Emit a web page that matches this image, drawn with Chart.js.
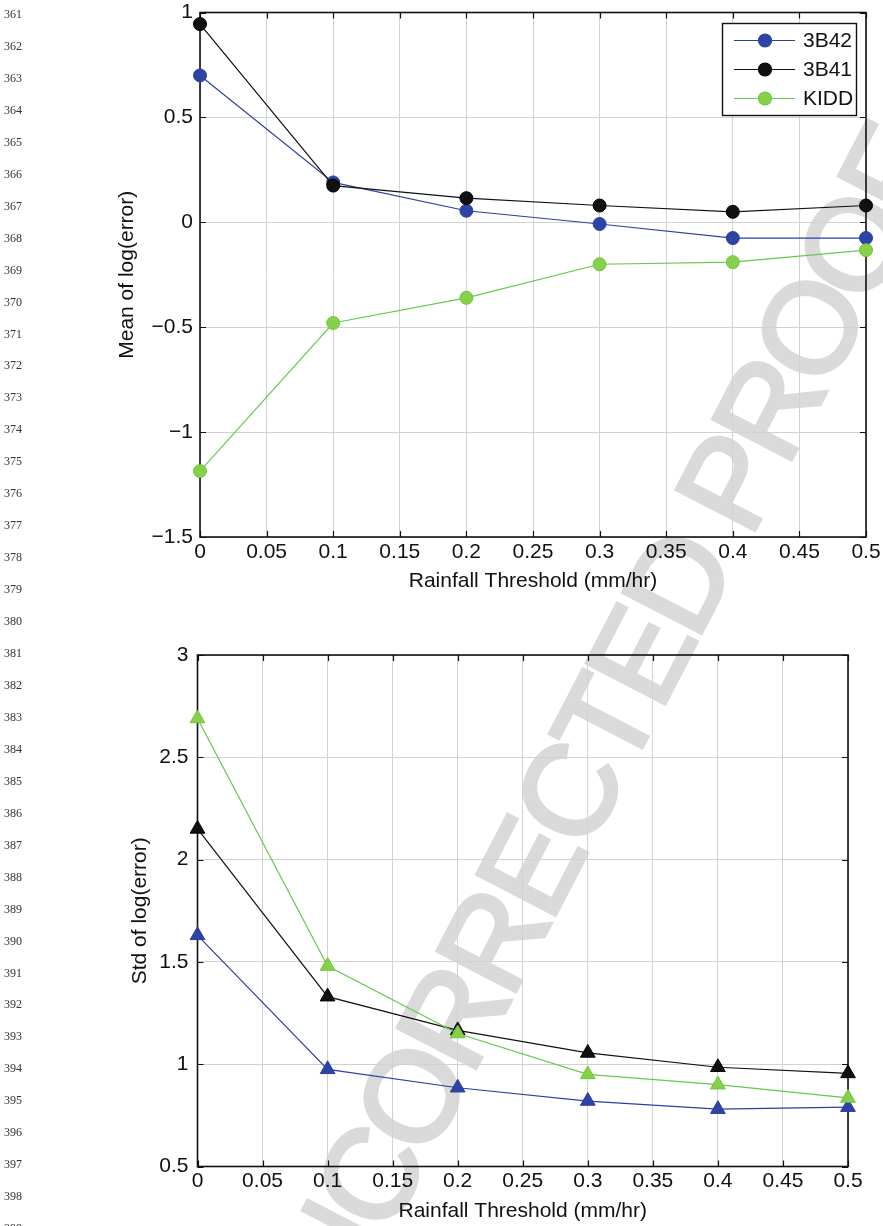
<!DOCTYPE html>
<html>
<head>
<meta charset="utf-8">
<script src="https://cdn.jsdelivr.net/npm/chart.js@4.4.1/dist/chart.umd.min.js"></script>
<style>
  body { margin: 0; background: #fff; width: 883px; height: 1226px; overflow: hidden; position: relative; }
  #wm {
    position: absolute; left: 588px; top: 756px; z-index: 0;
    transform: translate(-50%, -50%) rotate(-62.6deg);
    font: 128px "Liberation Sans", Arial, sans-serif; line-height: 1; letter-spacing: -6px;
    color: #dadada; -webkit-text-stroke: 4px #dadada; white-space: nowrap;
  }
  .ln { position: absolute; left: 4px; font: 12px "Liberation Serif", "Times New Roman", serif; color: #333; z-index: 2; }
  canvas { position: absolute; left: 0; z-index: 1; }
  #meanChart { top: 0; }
  #stdChart { top: 620px; }
</style>
</head>
<body>
<div id="wm">UNCORRECTED PROOF</div>
<canvas id="meanChart" width="883" height="610"></canvas>
<canvas id="stdChart" width="883" height="606"></canvas>
<script>
// rainfall thresholds (mm/hr)
const thresholds = [0, 0.1, 0.2, 0.3, 0.4, 0.5];
const seriesNames = ['3B42', '3B41', 'KIDD'];

// mean of log(error)
const mean3B42 = [0.70, 0.19, 0.055, -0.008, -0.075, -0.075];
const mean3B41 = [0.945, 0.175, 0.115, 0.08, 0.05, 0.08];
const meanKIDD = [-1.186, -0.48, -0.36, -0.20, -0.19, -0.133];

// std of log(error)
const std3B42 = [1.63, 0.975, 0.885, 0.82, 0.78, 0.79];
const std3B41 = [2.15, 1.33, 1.165, 1.055, 0.985, 0.955];
const stdKIDD = [2.69, 1.48, 1.15, 0.95, 0.90, 0.835];

const xTicks = [0, 0.05, 0.1, 0.15, 0.2, 0.25, 0.3, 0.35, 0.4, 0.45, 0.5];
const meanTicks = [-1.5, -1, -0.5, 0, 0.5, 1];
const stdTicks = [0.5, 1, 1.5, 2, 2.5, 3];

const colors = {
  '3B42': { line: '#2c40a2', fill: '#2d44a6', edge: '#2b3f9e' },
  '3B41': { line: '#111111', fill: '#111111', edge: '#000000' },
  'KIDD': { line: '#64c94f', fill: '#88d04a', edge: '#6bc63f' },
};

Chart.defaults.font.family = '"Liberation Sans", Arial, Helvetica, sans-serif';
Chart.defaults.font.size = 21;
Chart.defaults.color = '#111';

// line numbers of the proof page
for (let i = 0; i <= 38; i++) {
  const d = document.createElement('div');
  d.className = 'ln';
  d.textContent = String(361 + i);
  d.style.top = (7 + i * 31.95) + 'px';
  document.body.appendChild(d);
}

const fmt = (v) => (v < 0 ? '\u2212' : '') + String(Math.abs(+v.toFixed(2)));

// MATLAB-like axes box with inward ticks
const boxPlugin = {
  id: 'matlabBox',
  beforeDatasetsDraw(chart) {
    const { ctx, chartArea: a, scales } = chart;
    ctx.save();
    ctx.strokeStyle = '#111';
    ctx.lineWidth = 1.2;
    ctx.beginPath();
    scales.x.ticks.forEach((t) => {
      const px = Math.round(scales.x.getPixelForValue(t.value)) + 0.5;
      ctx.moveTo(px, a.bottom); ctx.lineTo(px, a.bottom - 6);
      ctx.moveTo(px, a.top); ctx.lineTo(px, a.top + 6);
    });
    scales.y.ticks.forEach((t) => {
      const py = Math.round(scales.y.getPixelForValue(t.value)) + 0.5;
      ctx.moveTo(a.left, py); ctx.lineTo(a.left + 6, py);
      ctx.moveTo(a.right, py); ctx.lineTo(a.right - 6, py);
    });
    ctx.stroke();
    ctx.lineWidth = 1.6;
    ctx.strokeRect(a.left, a.top, a.right - a.left, a.bottom - a.top);
    ctx.restore();
  },
};

const legendPlugin = {
  id: 'boxLegend',
  afterDatasetsDraw(chart) {
    const { ctx } = chart;
    ctx.save();
    ctx.fillStyle = '#fff';
    ctx.fillRect(722.5, 23.5, 134, 92);
    ctx.strokeStyle = '#111';
    ctx.lineWidth = 1.4;
    ctx.strokeRect(722.5, 23.5, 134, 92);
    seriesNames.forEach((name, i) => {
      const y = 40.5 + i * 29;
      const c = colors[name];
      ctx.strokeStyle = c.line;
      ctx.lineWidth = 1.2;
      ctx.beginPath(); ctx.moveTo(734, y); ctx.lineTo(795, y); ctx.stroke();
      ctx.fillStyle = c.fill;
      ctx.strokeStyle = c.edge;
      ctx.beginPath(); ctx.arc(765, y, 6.5, 0, Math.PI * 2); ctx.fill(); ctx.stroke();
      ctx.fillStyle = '#111';
      ctx.font = '21px "Liberation Sans", Arial, sans-serif';
      ctx.textBaseline = 'middle';
      ctx.fillText(name, 803, y + 1);
    });
    ctx.restore();
  },
};

function makeDataset(name, values, pointStyle, radius, order) {
  const c = colors[name];
  return {
    label: name,
    data: thresholds.map((x, i) => ({ x, y: values[i] })),
    borderColor: c.line,
    borderWidth: 1.2,
    pointStyle,
    pointRadius: radius,
    pointHoverRadius: radius,
    pointBackgroundColor: c.fill,
    pointBorderColor: c.edge,
    pointBorderWidth: 1,
    tension: 0,
    clip: false,
    order,
  };
}

function makeChart(id, datasets, cfg) {
  return new Chart(document.getElementById(id), {
    type: 'line',
    data: { datasets },
    plugins: cfg.legend ? [boxPlugin, legendPlugin] : [boxPlugin],
    options: {
      responsive: false,
      animation: false,
      devicePixelRatio: 1,
      layout: { padding: { top: cfg.padTop, right: cfg.padRight, left: 0, bottom: 0 } },
      plugins: { legend: { display: false }, tooltip: { enabled: false } },
      scales: {
        x: {
          type: 'linear', min: 0, max: 0.5,
          afterBuildTicks: (s) => { s.ticks = xTicks.map((v) => ({ value: v })); },
          afterFit: (s) => { s.height = cfg.xHeight; s.paddingLeft = 0; s.paddingRight = 0; },
          ticks: { autoSkip: false, maxRotation: 0, padding: cfg.xTickPad, callback: (v) => fmt(v), color: '#111' },
          grid: { color: '#d2d2d2', lineWidth: 1, drawTicks: false },
          border: { display: false },
          title: { display: true, text: 'Rainfall Threshold (mm/hr)', color: '#111', padding: { top: 0, bottom: cfg.xTitlePad } },
        },
        y: {
          type: 'linear', min: cfg.yTicks[0], max: cfg.yTicks[cfg.yTicks.length - 1],
          afterBuildTicks: (s) => { s.ticks = cfg.yTicks.map((v) => ({ value: v })); },
          afterFit: (s) => { s.width = cfg.yWidth; s.paddingTop = 0; s.paddingBottom = 0; },
          ticks: { autoSkip: false, padding: cfg.yTickPad, callback: (v) => fmt(v), color: '#111' },
          grid: { color: '#d2d2d2', lineWidth: 1, drawTicks: false },
          border: { display: false },
          title: { display: true, text: cfg.yTitle, color: '#111', padding: { top: cfg.yTitlePad, bottom: 0 } },
        },
      },
    },
  });
}

makeChart('meanChart', [
  makeDataset('3B42', mean3B42, 'circle', 6.5, 3),
  makeDataset('3B41', mean3B41, 'circle', 6.5, 2),
  makeDataset('KIDD', meanKIDD, 'circle', 6.5, 1),
], {
  legend: true, padTop: 12.5, padRight: 17, xHeight: 73, yWidth: 200,
  xTickPad: 2.4, xTitlePad: 16.4, yTickPad: 7, yTitlePad: 114.4,
  yTicks: meanTicks, yTitle: 'Mean of log(error)',
});

makeChart('stdChart', [
  makeDataset('3B42', std3B42, 'triangle', 8.5, 3),
  makeDataset('3B41', std3B41, 'triangle', 8.5, 2),
  makeDataset('KIDD', stdKIDD, 'triangle', 8.5, 1),
], {
  legend: false, padTop: 35, padRight: 35, xHeight: 59.5, yWidth: 197.5,
  xTickPad: 1.9, xTitlePad: 2.4, yTickPad: 9, yTitlePad: 127.4,
  yTicks: stdTicks, yTitle: 'Std of log(error)',
});
</script>
</body>
</html>
